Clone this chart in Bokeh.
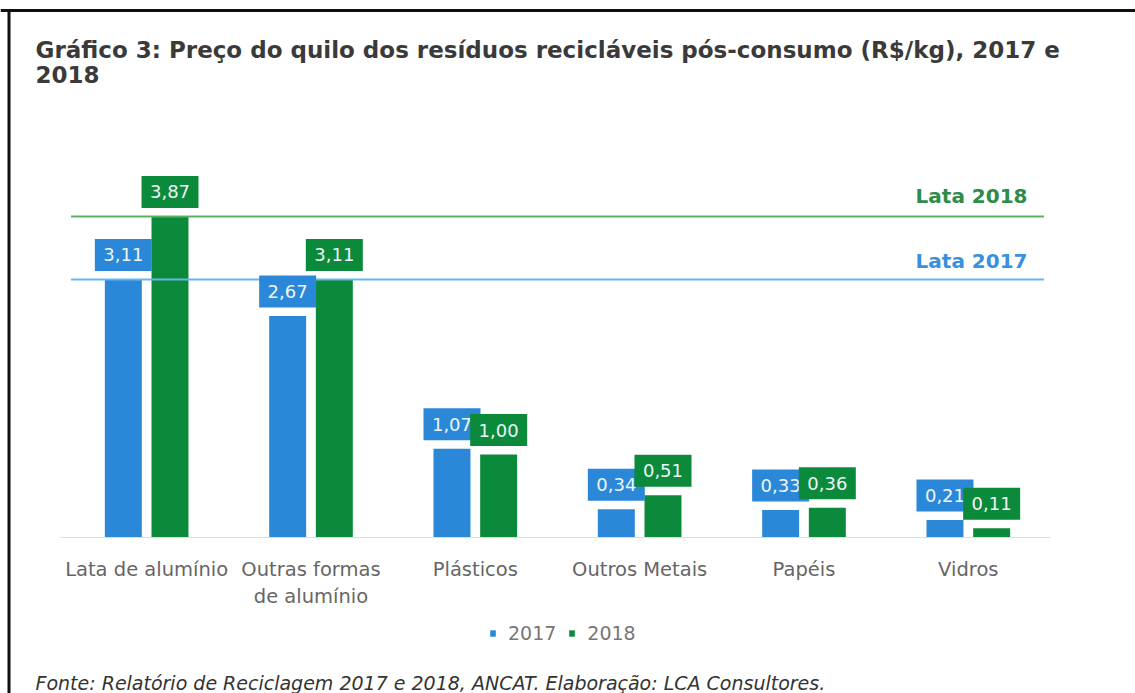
import numpy as np
from bokeh.plotting import figure
from bokeh.models import (Range1d, LinearAxis, FixedTicker, Label, Span, Legend, LegendItem)
from bokeh.embed import file_html
from bokeh.resources import INLINE
from bokeh.core.properties import value

# ---------------- data ----------------
title_line1 = "Gráfico 3: Preço do quilo dos resíduos recicláveis pós-consumo (R$/kg), 2017 e"
title_line2 = "2018"
categories = ["Lata de alumínio", "Outras formas\nde alumínio", "Plásticos",
              "Outros Metais", "Papéis", "Vidros"]
values_2017 = [3.11, 2.67, 1.07, 0.34, 0.33, 0.21]
values_2018 = [3.87, 3.11, 1.00, 0.51, 0.36, 0.11]
series_names = ["2017", "2018"]
ref_labels = ["Lata 2017", "Lata 2018"]
source_note = "Fonte: Relatório de Reciclagem 2017 e 2018, ANCAT. Elaboração: LCA Consultores."

# ---------------- layout constants ----------------
W, H = 1135, 693
CAT_LEFT = 64.0      # px of first category's left edge
CAT_W = 164.33       # px per category
BASE = 537.0         # px of y = 0
YPU = 82.96          # px per R$/kg

x_start = 0.5 - CAT_LEFT / CAT_W
x_end = x_start + W / CAT_W
y_end = BASE / YPU
y_start = y_end - H / YPU


def dx(px):
    return x_start + px / CAT_W


def dy(py):
    return y_end - py / YPU


BLUE = "#2b88d8"
GREEN = "#0c8a3b"
FONT = "DejaVu Sans"

p = figure(width=W, height=H, x_range=Range1d(x_start, x_end), y_range=Range1d(y_start, y_end),
           x_axis_type=None, y_axis_type=None, toolbar_location=None, output_backend="svg",
           min_border=0, background_fill_color="white", border_fill_color="white")
p.outline_line_color = None
p.grid.visible = False

n = len(categories)
centers = np.arange(1, n + 1, dtype=float)
off = 0.142
bw = 0.225
v17 = np.array(values_2017)
v18 = np.array(values_2018)

# frame border (top + left)
p.add_layout(Span(location=dy(10), dimension="width", line_color="#111111", line_width=3))
p.segment(x0=[dx(8.5)], x1=[dx(8.5)], y0=[dy(8.5)], y1=[y_start], line_color="#111111",
          line_width=3)

# bars
r17 = p.vbar(x=centers - off, top=v17, width=bw, bottom=0, fill_color=BLUE, line_color=None)
r18 = p.vbar(x=centers + off, top=v18, width=bw, bottom=0, fill_color=GREEN, line_color=None)

# reference lines (Lata values)
p.segment(x0=[0.54], x1=[n + 0.46], y0=[values_2018[0]], y1=[values_2018[0]],
          line_color="#58b35e", line_width=2)
p.segment(x0=[0.54], x1=[n + 0.46], y0=[values_2017[0]], y1=[values_2017[0]],
          line_color="#66b6ee", line_width=2)
p.text(x=[dx(1027)], y=[values_2018[0] + 20 / YPU], text=[ref_labels[1]], text_align="right",
       text_baseline="middle", text_font=value(FONT), text_font_style="bold",
       text_font_size=value("20px"), text_color="#2e8b4a")
p.text(x=[dx(1027)], y=[values_2017[0] + 18 / YPU], text=[ref_labels[0]], text_align="right",
       text_baseline="middle", text_font=value(FONT), text_font_style="bold",
       text_font_size=value("20px"), text_color="#3a90df")

# value boxes
def fmt(v):
    return f"{v:.2f}".replace(".", ",")

for xs, vs, col in ((centers - off, v17, BLUE), (centers + off, v18, GREEN)):
    yb = vs + 24.5 / YPU
    p.rect(x=xs, y=yb, width=57, height=32, width_units="screen", height_units="screen",
           fill_color=col, line_color=None)
    p.text(x=xs, y=yb, text=[fmt(v) for v in vs], text_align="center", text_baseline="middle",
           text_font=value(FONT), text_font_size=value("18px"), text_color="#eef5f8")

# category axis along the baseline
ax = LinearAxis(fixed_location=0, ticker=FixedTicker(ticks=list(range(1, n + 1))),
                major_label_overrides={i + 1: c for i, c in enumerate(categories)})
ax.bounds = (dx(60), dx(1050))
ax.axis_line_color = "#dddddd"
ax.axis_line_width = 1
ax.major_tick_in = 0
ax.major_tick_out = 0
ax.minor_tick_line_color = None
ax.major_label_standoff = 20
ax.major_label_text_font = FONT
ax.major_label_text_font_size = "19.5px"
ax.major_label_text_color = "#666666"
p.add_layout(ax, "below")

# title
p.add_layout(Label(x=dx(35), y=dy(49), text=title_line1, text_baseline="middle",
                   text_font=FONT, text_font_style="bold", text_font_size="23px",
                   text_color="#3a3a3a"))
p.add_layout(Label(x=dx(35), y=dy(74), text=title_line2, text_baseline="middle",
                   text_font=FONT, text_font_style="bold", text_font_size="23px",
                   text_color="#3a3a3a"))

# legend
legend = Legend(items=[LegendItem(label=series_names[0], renderers=[r17]),
                       LegendItem(label=series_names[1], renderers=[r18])],
                location=(489, 49), orientation="horizontal")
legend.glyph_width = 7
legend.glyph_height = 8
legend.label_standoff = 12
legend.spacing = 12
legend.padding = 0
legend.margin = 0
legend.border_line_color = None
legend.background_fill_alpha = 0
legend.label_text_font = FONT
legend.label_text_font_size = "19px"
legend.label_text_color = "#777777"
p.add_layout(legend)

# footnote
p.add_layout(Label(x=dx(35), y=dy(682), text=source_note, text_baseline="middle",
                   text_font=FONT, text_font_style="italic", text_font_size="19px",
                   text_color="#333333"))

open("out.html", "w").write(file_html(p, INLINE))
